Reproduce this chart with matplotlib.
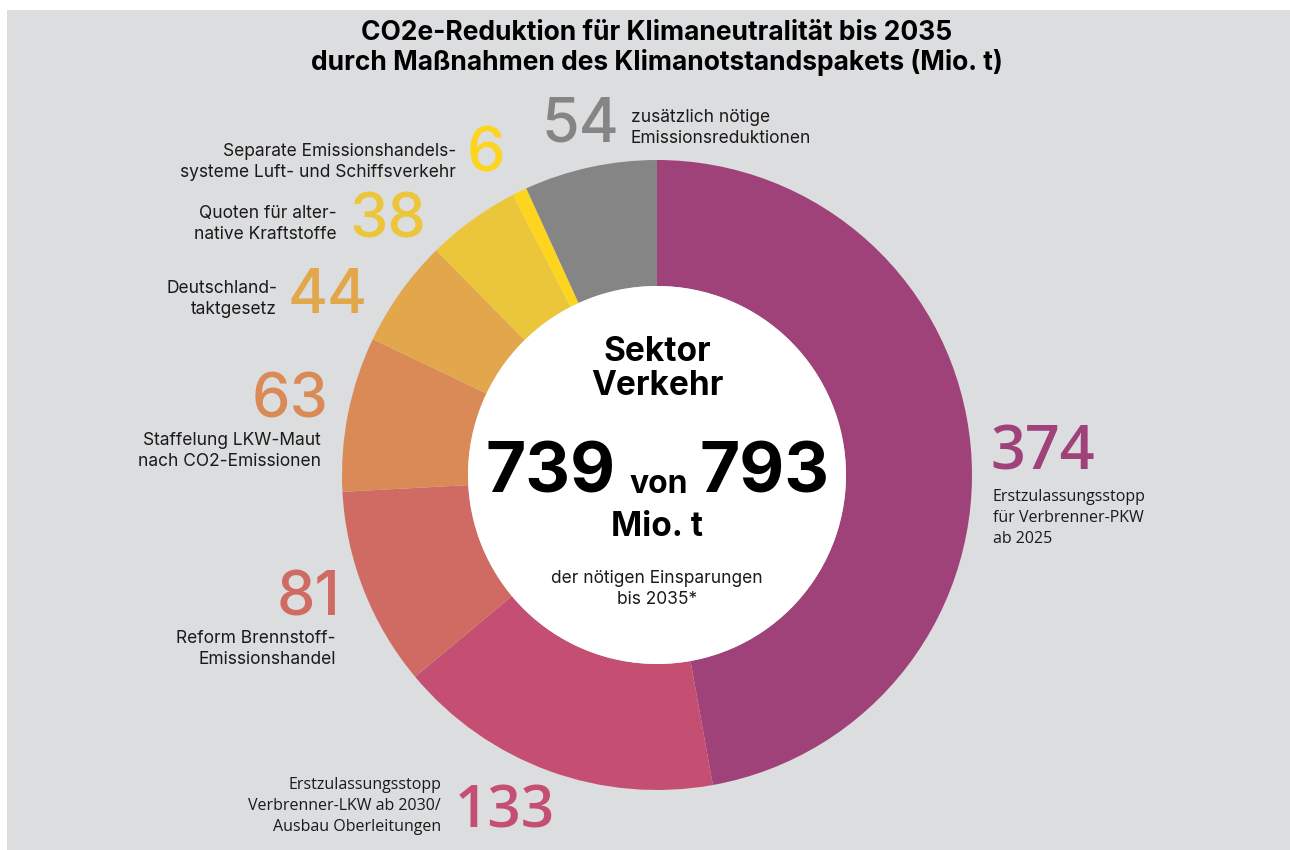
import matplotlib.pyplot as plt
from matplotlib.patches import Rectangle, Circle

# Data (Mio. t CO2e)
measures = [
    "Erstzulassungsstopp\nfür Verbrenner-PKW\nab 2025",
    "Erstzulassungsstopp\nVerbrenner-LKW ab 2030/\nAusbau Oberleitungen",
    "Reform Brennstoff-\nEmissionshandel",
    "Staffelung LKW-Maut\nnach CO2-Emissionen",
    "Deutschland-\ntaktgesetz",
    "Quoten für alter-\nnative Kraftstoffe",
    "Separate Emissionshandels-\nsysteme Luft- und Schiffsverkehr",
    "zusätzlich nötige\nEmissionsreduktionen",
]
values = [374, 133, 81, 63, 44, 38, 6, 54]
colors = ["#a0427a", "#c54f72", "#d06b63", "#d98a56",
          "#e2a74a", "#ecc63a", "#fdd51f", "#858585"]

achieved = sum(values[:-1])
total = sum(values)

W, H = 1290, 850
fig = plt.figure(figsize=(W / 100, H / 100), dpi=100)
fig.patch.set_facecolor("white")
fig.add_artist(Rectangle((7 / W, 0), 1, 1 - 10 / H, transform=fig.transFigure,
                         facecolor="#dcdddf", edgecolor="none", zorder=0))


def px(x, y):
    return x / W, 1 - y / H


# donut
cx, cy, r = 657, 475, 315
ax = fig.add_axes([(cx - r) / W, (H - cy - r) / H, 2 * r / W, 2 * r / H])
ax.axis("off")
ax.pie(values, colors=colors, startangle=90, counterclock=False, radius=1,
       wedgeprops=dict(width=0.4, edgecolor="none"))
ax.add_patch(Circle((0, 0), 0.6, facecolor="white", edgecolor="none", zorder=5))
ax.set_xlim(-1, 1)
ax.set_ylim(-1, 1)
ax.set_aspect("equal")

# title
fig.text(*px(657, 33), "CO2e-Reduktion für Klimaneutralität bis 2035",
         ha="center", va="center", fontsize=19, fontweight="bold",
         family="Inter", color="black")
fig.text(*px(657, 63), "durch Maßnahmen des Klimanotstandspakets (Mio. t)",
         ha="center", va="center", fontsize=19, fontweight="bold",
         family="Inter", color="black")

lab = dict(fontsize=12.5, family="Inter", color="#1a1a1a", linespacing=1.3)
num = dict(fontsize=44, family="Inter", fontweight="medium")

# 374
fig.text(*px(990, 453), str(values[0]), ha="left", va="center",
         color=colors[0], fontsize=44, family="Open Sans", fontweight="semibold")
fig.text(*px(993, 518), measures[0], ha="left", va="center",
         fontsize=11.5, family="Open Sans", color="#1a1a1a", linespacing=1.45)
# 133
fig.text(*px(455, 813), str(values[1]), ha="left", va="center",
         color=colors[1], fontsize=42, family="Open Sans", fontweight="semibold")
fig.text(*px(441, 806), measures[1], ha="right", va="center",
         fontsize=11.5, family="Open Sans", color="#1a1a1a", linespacing=1.45)
# 81
fig.text(*px(340, 600), str(values[2]), ha="right", va="center",
         color=colors[2], **num)
fig.text(*px(336, 649), measures[2], ha="right", va="center", **lab)
# 63
fig.text(*px(329, 402), str(values[3]), ha="right", va="center",
         color=colors[3], **num)
fig.text(*px(321, 451), measures[3], ha="right", va="center", **lab)
# 44
fig.text(*px(288, 297), str(values[4]), ha="left", va="center",
         color=colors[4], **num)
fig.text(*px(277, 299), measures[4], ha="right", va="center", **lab)
# 38
fig.text(*px(349, 222), str(values[5]), ha="left", va="center",
         color=colors[5], **num)
fig.text(*px(337, 224), measures[5], ha="right", va="center", **lab)
# 6
fig.text(*px(467, 155), str(values[6]), ha="left", va="center",
         color=colors[6], **num)
fig.text(*px(456, 162), measures[6], ha="right", va="center", **lab)
# 54
fig.text(*px(541, 125), str(values[7]), ha="left", va="center",
         color=colors[7], **num)
fig.text(*px(631, 128), measures[7], ha="left", va="center", **lab)

# centre text
fig.text(*px(657, 369), "Sektor\nVerkehr", ha="center", va="center",
         fontsize=24, fontweight="bold", family="Inter", color="black",
         linespacing=1.1)
fig.text(*px(616, 493), str(achieved), ha="right", va="baseline",
         fontsize=50, fontweight="bold", family="Inter", color="black")
fig.text(*px(659, 493), "von", ha="center", va="baseline",
         fontsize=23, fontweight="bold", family="Inter", color="black")
fig.text(*px(700, 493), str(total), ha="left", va="baseline",
         fontsize=50, fontweight="bold", family="Inter", color="black")
fig.text(*px(657, 527), "Mio. t", ha="center", va="center",
         fontsize=24, fontweight="bold", family="Inter", color="black")
fig.text(*px(657, 589), "der nötigen Einsparungen\nbis 2035*", ha="center",
         va="center", **lab)

fig.savefig("out.png", dpi=100)
